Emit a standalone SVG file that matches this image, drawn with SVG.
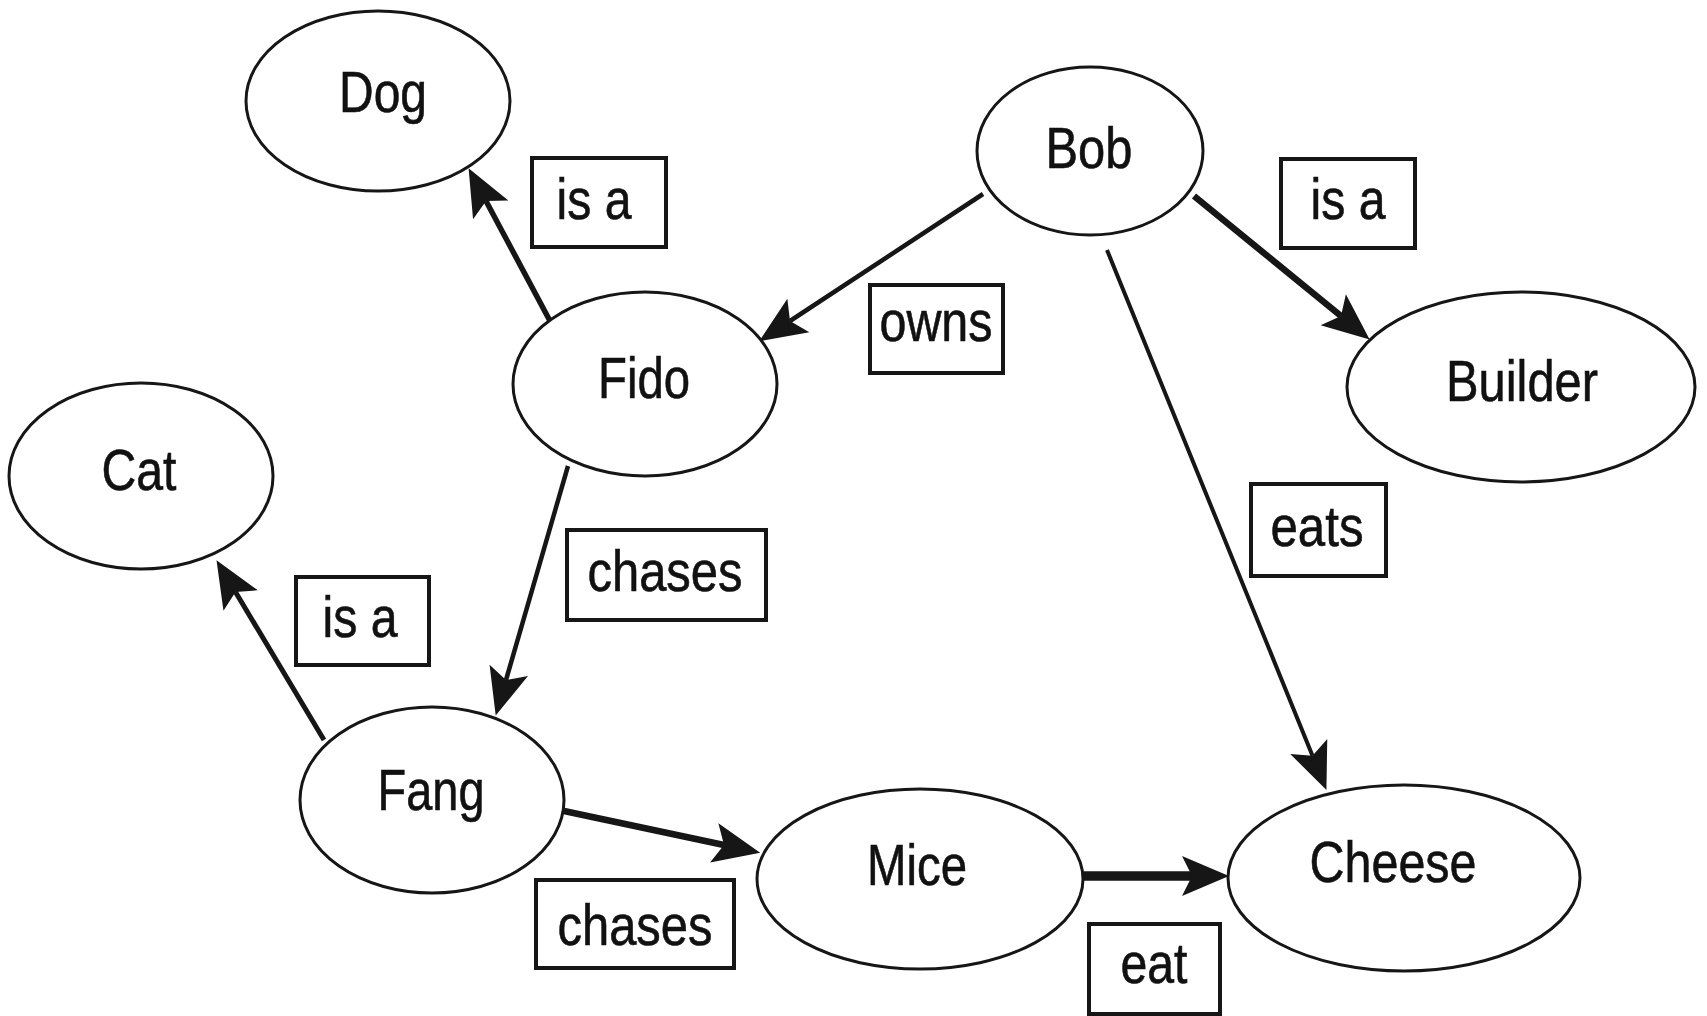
<svg xmlns="http://www.w3.org/2000/svg" width="1707" height="1016" viewBox="0 0 1707 1016">
<style>
.node ellipse{fill:#fff;stroke:#161616;stroke-width:3}
.t{font-family:"Liberation Sans",Arial,sans-serif;font-size:57px;fill:#111;text-anchor:middle;stroke:#111;stroke-width:0.6}
.lbl rect{fill:#fff;stroke:#161616;stroke-width:4}
.edge{stroke:#161616;fill:none}
</style>
<defs>
<marker id="ah" markerUnits="userSpaceOnUse" markerWidth="60" markerHeight="46" refX="0" refY="0" viewBox="-12 -23 50 46" orient="auto" overflow="visible">
<path d="M37,0 L-10,-20 L0,0 L-10,20 Z" fill="#161616"/>
</marker>
</defs>
<rect width="1707" height="1016" fill="#fff"/>
<g id="connectors">
<line class="edge" x1="550" y1="321" x2="486" y2="201" stroke-width="5.5" marker-end="url(#ah)"/>
<line class="edge" x1="983" y1="194" x2="790" y2="321" stroke-width="4.5" marker-end="url(#ah)"/>
<line class="edge" x1="1194" y1="196" x2="1341" y2="316" stroke-width="6.5" marker-end="url(#ah)"/>
<line class="edge" x1="1107" y1="250" x2="1312.5" y2="755.7" stroke-width="4" marker-end="url(#ah)"/>
<line class="edge" x1="568" y1="466" x2="506" y2="680" stroke-width="4.5" marker-end="url(#ah)"/>
<line class="edge" x1="324" y1="740" x2="235.5" y2="592" stroke-width="5" marker-end="url(#ah)"/>
<line class="edge" x1="564" y1="811" x2="724" y2="845" stroke-width="6.5" marker-end="url(#ah)"/>
<line class="edge" x1="1083" y1="876" x2="1192" y2="876" stroke-width="9.5" marker-end="url(#ah)"/>
</g>
<g id="node-dog" class="node"><ellipse cx="378" cy="101" rx="132" ry="90"/><text class="t" x="383" y="112" textLength="88" lengthAdjust="spacingAndGlyphs">Dog</text></g>
<g id="node-bob" class="node"><ellipse cx="1090" cy="151" rx="113" ry="84"/><text class="t" x="1089" y="168" textLength="87" lengthAdjust="spacingAndGlyphs">Bob</text></g>
<g id="node-fido" class="node"><ellipse cx="645" cy="384" rx="132" ry="92"/><text class="t" x="644" y="398" textLength="92" lengthAdjust="spacingAndGlyphs">Fido</text></g>
<g id="node-builder" class="node"><ellipse cx="1521" cy="387" rx="174" ry="95"/><text class="t" x="1522" y="401" textLength="152" lengthAdjust="spacingAndGlyphs">Builder</text></g>
<g id="node-cat" class="node"><ellipse cx="141" cy="476" rx="132" ry="93"/><text class="t" x="139" y="490" textLength="75" lengthAdjust="spacingAndGlyphs">Cat</text></g>
<g id="node-fang" class="node"><ellipse cx="432" cy="800" rx="132" ry="93"/><text class="t" x="431" y="810" textLength="107" lengthAdjust="spacingAndGlyphs">Fang</text></g>
<g id="node-mice" class="node"><ellipse cx="920" cy="879" rx="163" ry="90"/><text class="t" x="917" y="885" textLength="100" lengthAdjust="spacingAndGlyphs">Mice</text></g>
<g id="node-cheese" class="node"><ellipse cx="1404" cy="878" rx="176" ry="93"/><text class="t" x="1393" y="882" textLength="167" lengthAdjust="spacingAndGlyphs">Cheese</text></g>
<g id="label-isa-dog" class="lbl"><rect x="532" y="158" width="134" height="89"/><text class="t" x="594" y="219" textLength="75" lengthAdjust="spacingAndGlyphs">is a</text></g>
<g id="label-isa-builder" class="lbl"><rect x="1281" y="159" width="134" height="89"/><text class="t" x="1348" y="219" textLength="75" lengthAdjust="spacingAndGlyphs">is a</text></g>
<g id="label-owns" class="lbl"><rect x="870" y="285" width="133" height="88"/><text class="t" x="936" y="341" textLength="113" lengthAdjust="spacingAndGlyphs">owns</text></g>
<g id="label-chases-1" class="lbl"><rect x="567" y="530" width="199" height="90"/><text class="t" x="665" y="591" textLength="155" lengthAdjust="spacingAndGlyphs">chases</text></g>
<g id="label-isa-cat" class="lbl"><rect x="296" y="577" width="133" height="88"/><text class="t" x="360" y="637" textLength="75" lengthAdjust="spacingAndGlyphs">is a</text></g>
<g id="label-eats" class="lbl"><rect x="1251" y="484" width="135" height="92"/><text class="t" x="1317" y="546" textLength="93" lengthAdjust="spacingAndGlyphs">eats</text></g>
<g id="label-chases-2" class="lbl"><rect x="536" y="880" width="198" height="88"/><text class="t" x="635" y="945" textLength="155" lengthAdjust="spacingAndGlyphs">chases</text></g>
<g id="label-eat" class="lbl"><rect x="1089" y="924" width="131" height="90"/><text class="t" x="1154" y="983" textLength="67" lengthAdjust="spacingAndGlyphs">eat</text></g>
</svg>
